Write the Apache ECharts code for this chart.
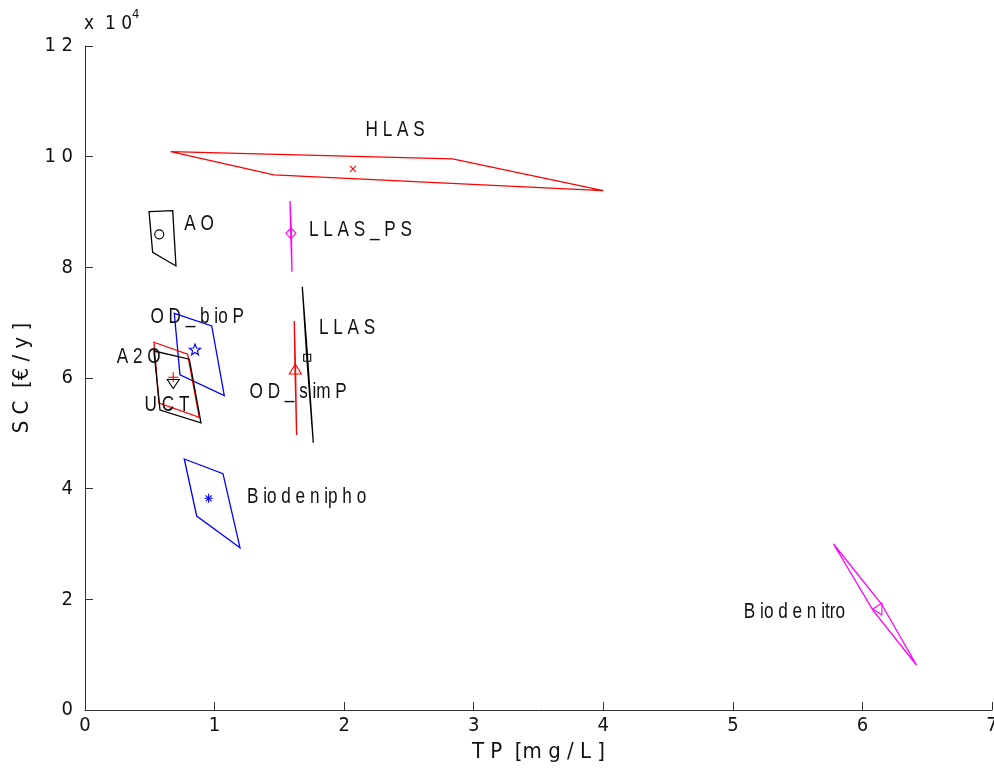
<!DOCTYPE html>
<html><head><meta charset="utf-8">
<script src="https://cdn.jsdelivr.net/npm/echarts@6/dist/echarts.min.js"></script>
<style>html,body{margin:0;padding:0;background:#fff}#c{width:994px;height:773px}</style>
</head><body><div id="c"></div>
<script>
// ---- data ----
const xTicks = [0, 1, 2, 3, 4, 5, 6, 7];
const yTicks = [0, 20000, 40000, 60000, 80000, 100000, 120000];
const names = ['H L A S', 'A O', 'L L A S _ P S', 'O D _ b io P', 'L L A S', 'A 2 O', 'O D _ s im P', 'U C T', 'B io d e n ip h o', 'B io d e n itro'];
const markerXY = [
  [2.068, 97800], [0.573, 85960], [1.590, 86150], [0.849, 65060], [1.715, 63670],
  [0.681, 60130], [1.623, 61450], [0.681, 59000], [0.954, 38260], [6.119, 18250]
];
const polyHLAS = [[0.661, 100900], [2.837, 99600], [4.000, 93850], [1.458, 96700]];
const polyAO = [[0.494, 90060], [0.677, 90240], [0.702, 80250], [0.522, 82700]];
const polyLLAS_PS = [[1.582, 92000], [1.593, 86200], [1.597, 79200], [1.588, 86100]];
const polyOD_bioP = [[0.689, 71700], [0.978, 69400], [1.075, 56800], [0.733, 60560]];
const polyLLAS = [[1.677, 76500], [1.718, 63700], [1.762, 48300], [1.712, 63600]];
const polyA2O = [[0.532, 66460], [0.792, 64290], [0.882, 52900], [0.571, 55480]];
const polyOD_simP = [[1.615, 70300], [1.625, 61500], [1.633, 49700], [1.621, 61400]];
const polyUCT = [[0.532, 64880], [0.805, 63400], [0.895, 51900], [0.579, 54200]];
const polyBiodenipho = [[0.766, 45360], [1.065, 42700], [1.196, 29330], [0.862, 35060]];
const polyBiodenitro = [[5.777, 30000], [6.147, 19150], [6.417, 8130], [6.083, 17950]];
const labelXY = [
  [2.165, 104800], [0.766, 87800], [1.728, 86750], [0.505, 71000], [1.805, 69000],
  [0.245, 63800], [1.270, 57500], [0.460, 55100], [1.250, 38500], [5.085, 17700]
];
// ---- styles ----
const polygons = [polyHLAS, polyAO, polyLLAS_PS, polyOD_bioP, polyLLAS, polyA2O, polyOD_simP, polyUCT, polyBiodenipho, polyBiodenitro];
const colors = ['#ff0000', '#000000', '#ff00ff', '#0000ff', '#000000', '#ff0000', '#ff0000', '#000000', '#0000ff', '#ff00ff'];
const kinds = ['x', 'circle', 'diamond', 'star', 'square', 'plus', 'triUp', 'triDown', 'asterisk', 'triLeft'];
const FONT = '"DejaVu Sans Condensed", "Liberation Sans", sans-serif';

function markerEl(kind, cx, cy, color) {
  const st = { fill: 'none', stroke: color, lineWidth: 1.1 };
  const ln = (x1, y1, x2, y2) => ({ type: 'line', shape: { x1: cx + x1, y1: cy + y1, x2: cx + x2, y2: cy + y2 }, style: st });
  const pg = (pts) => ({ type: 'polygon', shape: { points: pts.map(p => [cx + p[0], cy + p[1]]) }, style: st });
  switch (kind) {
    case 'x': return { type: 'group', children: [ln(-3, -3, 3, 3), ln(-3, 3, 3, -3)] };
    case 'plus': return { type: 'group', children: [ln(-5, 0, 5, 0), ln(0, -5, 0, 5)] };
    case 'asterisk': return { type: 'group', children: [ln(-4, 0, 4, 0), ln(0, -4.5, 0, 4.5), ln(-3, -3, 3, 3), ln(-3, 3, 3, -3)] };
    case 'circle': return { type: 'circle', shape: { cx: cx, cy: cy, r: 4.5 }, style: st };
    case 'square': return pg([[-3.5, -3.5], [3.5, -3.5], [3.5, 3.5], [-3.5, 3.5]]);
    case 'diamond': return pg([[0, -5.5], [5, 0], [0, 5.5], [-5, 0]]);
    case 'triUp': return pg([[0, -6], [6, 4], [-6, 4]]);
    case 'triDown': return pg([[0, 5], [6, -4], [-6, -4]]);
    case 'triLeft': return pg([[-5, 0], [4, -6], [4, 6]]);
    case 'star': {
      const pts = [];
      for (let k = 0; k < 10; k++) {
        const r = k % 2 === 0 ? 6 : 2.5;
        const a = -Math.PI / 2 + k * Math.PI / 5;
        pts.push([r * Math.cos(a), r * Math.sin(a)]);
      }
      return pg(pts);
    }
  }
}

const chart = echarts.init(document.getElementById('c'));
chart.setOption({
  animation: false,
  backgroundColor: '#ffffff',
  grid: { left: 85, right: 2, top: 46, bottom: 63, containLabel: false, outerBoundsMode: 'none' },
  xAxis: {
    type: 'value', min: 0, max: 7, interval: 1,
    name: 'T P  [m g / L ]', nameLocation: 'middle', nameGap: 27,
    nameTextStyle: { fontFamily: FONT, fontSize: 22, color: '#111' },
    axisLine: { show: true, lineStyle: { color: '#333', width: 1 } },
    axisTick: { show: true, inside: true, length: 8, lineStyle: { color: '#333' } },
    axisLabel: { fontFamily: FONT, fontSize: 20, color: '#111', margin: 6,
      formatter: v => xTicks.includes(v) ? String(v) : '' },
    splitLine: { show: false }
  },
  yAxis: {
    type: 'value', min: 0, max: 120000, interval: 20000,
    name: 'S C  [€ / y ]', nameLocation: 'middle', nameGap: 44, nameRotate: 90,
    nameTextStyle: { fontFamily: FONT, fontSize: 22, color: '#111' },
    axisLine: { show: true, lineStyle: { color: '#333', width: 1 } },
    axisTick: { show: true, inside: true, length: 8, lineStyle: { color: '#333' } },
    axisLabel: { fontFamily: FONT, fontSize: 20, color: '#111', margin: 12,
      formatter: v => yTicks.includes(v) ? String(v / 10000).split('').join(' ') : '' },
    splitLine: { show: false }
  },
  graphic: [
    { type: 'text', left: 84, top: 15, style: { text: 'x  1 0', font: '19px ' + FONT, fill: '#111' } },
    { type: 'text', left: 132, top: 8, style: { text: '4', font: '13px ' + FONT, fill: '#111' } }
  ],
  series: [
    {
      type: 'custom', clip: false,
      data: markerXY,
      encode: { x: 0, y: 1 },
      renderItem: function (params, api) {
        const i = params.dataIndex;
        const pts = polygons[i].map(p => api.coord(p));
        const c = api.coord(markerXY[i]);
        return { type: 'group', children: [
          { type: 'polygon', shape: { points: pts }, style: { fill: 'none', stroke: colors[i], lineWidth: 1.3 } },
          markerEl(kinds[i], c[0], c[1], colors[i])
        ] };
      }
    },
    {
      type: 'custom', clip: false,
      data: labelXY,
      encode: { x: 0, y: 1 },
      renderItem: function (params, api) {
        const i = params.dataIndex;
        const c = api.coord(labelXY[i]);
        return { type: 'text', x: c[0], y: c[1], scaleX: 0.78,
          style: { text: names[i], font: '22px "Liberation Sans", sans-serif', fill: '#111',
            textAlign: 'left', textVerticalAlign: 'middle' } };
      }
    }
  ]
});
</script></body></html>
